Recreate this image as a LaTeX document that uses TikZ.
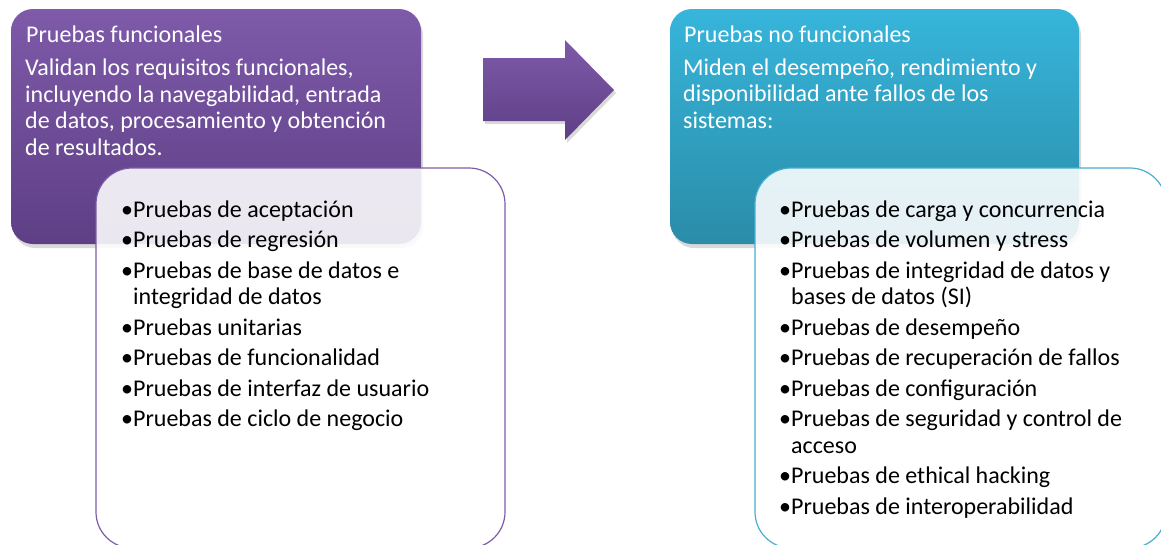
\documentclass[tikz,border=0pt]{standalone}
\usepackage{fontspec}
\setmainfont{Carlito}
\usepackage{xcolor}
\usepackage{tikz}
\usetikzlibrary{shadows}

\definecolor{violTop}{HTML}{7E5AA9}
\definecolor{violBot}{HTML}{5E3F85}
\definecolor{violLine}{HTML}{7C5CA8}
\definecolor{cyanTop}{HTML}{37B5DB}
\definecolor{cyanBot}{HTML}{2A8CA8}
\definecolor{cyanLine}{HTML}{4AAECF}

\newcommand{\bul}{\textbullet}
\newcommand{\hang}{\hphantom{\textbullet}}

\begin{document}
\begin{tikzpicture}[x=1pt, y=-1pt,
  headbox/.style = {rounded corners=22pt, drop shadow={opacity=0.3, shadow xshift=2pt, shadow yshift=-4pt}},
  violet/.style = {top color=violTop, bottom color=violBot},
  cyan/.style = {top color=cyanTop, bottom color=cyanBot},
  listbox/.style = {rounded corners=36pt, fill=white, fill opacity=0.88, line width=1.2pt},
  title/.style = {anchor=base west, inner sep=0pt, text=white, font=\fontsize{24}{26.5}\selectfont},
  body/.style = {anchor=base west, inner sep=0pt, text=white, align=left, font=\fontsize{24}{26.5}\selectfont},
  items/.style = {anchor=base west, inner sep=0pt, text=black, align=left, font=\fontsize{24}{26.5}\selectfont}]
\useasboundingbox (0,0) rectangle (1161,544);
\clip (0,0) rectangle (1161,544);

% colored boxes
\path[headbox, violet] (11,9) rectangle (421,244);
\path[headbox, cyan] (670,9) rectangle (1079,244);

% arrow
\path[violet, drop shadow={opacity=0.3, shadow xshift=2pt, shadow yshift=-3pt}]
  (483,58) -- (565,58) -- (565,40) -- (614,90) -- (565,140) -- (565,121) -- (483,121) -- cycle;

% white boxes
\draw[listbox, draw=violLine] (96,168) rectangle (505,548);
\draw[listbox, draw=cyanLine] (755,168) rectangle (1166,548);

% texts (multi-line nodes sit on their last baseline)
\node[title] (t1) at (26,42.5) {Pruebas funcionales};
\node[body] (b1) at (25,155) {Validan los requisitos funcionales,\\incluyendo la navegabilidad, entrada\\de datos, procesamiento y obtención\\de resultados.};

\node[title] (t2) at (684,42.5) {Pruebas no funcionales};
\node[body] (b2) at (683,128) {Miden el desempeño, rendimiento y\\disponibilidad ante fallos de los\\sistemas:};

\node[items] (l1) at (121,426.5) {\bul Pruebas de aceptación\\[4pt]
\bul Pruebas de regresión\\[4pt]
\bul Pruebas de base de datos e\\
\hang integridad de datos\\[4pt]
\bul Pruebas unitarias\\[4pt]
\bul Pruebas de funcionalidad\\[4pt]
\bul Pruebas de interfaz de usuario\\[4pt]
\bul Pruebas de ciclo de negocio};

\node[items] (l2) at (779,514) {\bul Pruebas de carga y concurrencia\\[4pt]
\bul Pruebas de volumen y stress\\[4pt]
\bul Pruebas de integridad de datos y\\
\hang bases de datos (SI)\\[4pt]
\bul Pruebas de desempeño\\[4pt]
\bul Pruebas de recuperación de fallos\\[4pt]
\bul Pruebas de configuración\\[4pt]
\bul Pruebas de seguridad y control de\\
\hang acceso\\[4pt]
\bul Pruebas de ethical hacking\\[4pt]
\bul Pruebas de interoperabilidad};
\end{tikzpicture}
\end{document}
